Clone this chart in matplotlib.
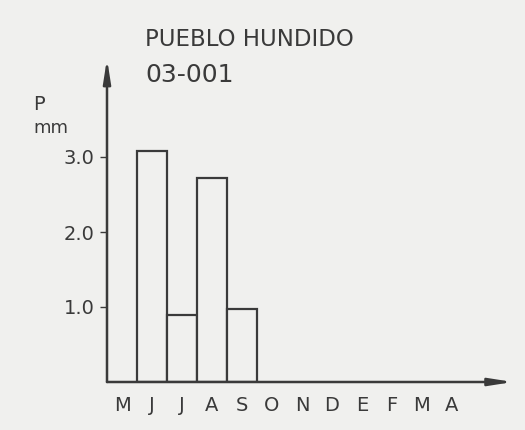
import matplotlib

matplotlib.use("Agg")
import matplotlib.pyplot as plt
import numpy as np

# Monthly precipitation, hydrological year May..April
months = ["M", "J", "J", "A", "S", "O", "N", "D", "E", "F", "M", "A"]
precip_mm = [0.0, 3.08, 0.89, 2.72, 0.97, 0.0, 0.0, 0.0, 0.0, 0.0, 0.0, 0.0]
y_ticks = [1.0, 2.0, 3.0]
y_tick_labels = ["1.0", "2.0", "3.0"]

station = "PUEBLO HUNDIDO"
code = "03-001"

BG = "#f0f0ee"
INK = "#3a3a3a"

fig = plt.figure(figsize=(5.25, 4.3), dpi=100)
fig.patch.set_facecolor(BG)

W, H = 525, 430
x0, y0 = 107, 382
ax = fig.add_axes([x0 / W, (H - y0) / H, (505 - x0) / W, (y0 - 65) / H])
ax.set_facecolor(BG)

x = np.arange(len(months)) + 0.5
vals = np.array(precip_mm)
mask = vals > 0
ax.bar(x[mask], vals[mask], width=1.0, facecolor=BG, edgecolor=INK, linewidth=1.6, zorder=2)

ax.set_xlim(0, (505 - x0) / 30)
ax.set_ylim(0, (y0 - 65) / 75)

for s in ax.spines.values():
    s.set_visible(False)

# axes drawn as arrows, tips pushed a little past the axes box
arrow = dict(arrowstyle="-|>,head_length=1.4,head_width=0.22", color=INK, lw=1.8, shrinkA=0, shrinkB=0)
ax.annotate("", xy=(1.02, 0), xytext=(0, 0), xycoords="axes fraction", arrowprops=arrow,
            zorder=3, annotation_clip=False)
ax.annotate("", xy=(0, 1.02), xytext=(0, 0), xycoords="axes fraction", arrowprops=arrow,
            zorder=3, annotation_clip=False)

ax.set_xticks(x)
ax.set_xticklabels(months)
ax.tick_params(axis="x", length=0, pad=10, labelsize=14, colors=INK)
ax.set_yticks(y_ticks)
ax.set_yticklabels(y_tick_labels)
ax.tick_params(axis="y", length=5, width=1.0, pad=4, labelsize=14, colors=INK, direction="out")

fig.text(33 / W, 1 - 104 / H, "P", fontsize=14, color=INK, va="center", ha="left")
fig.text(33 / W, 1 - 128 / H, "mm", fontsize=13, color=INK, va="center", ha="left")
fig.text(145 / W, 1 - 40 / H, station, fontsize=16.5, color=INK, va="center", ha="left")
fig.text(145 / W, 1 - 75 / H, code, fontsize=18, color=INK, va="center", ha="left")

fig.savefig("out.png", dpi=100, facecolor=BG)
